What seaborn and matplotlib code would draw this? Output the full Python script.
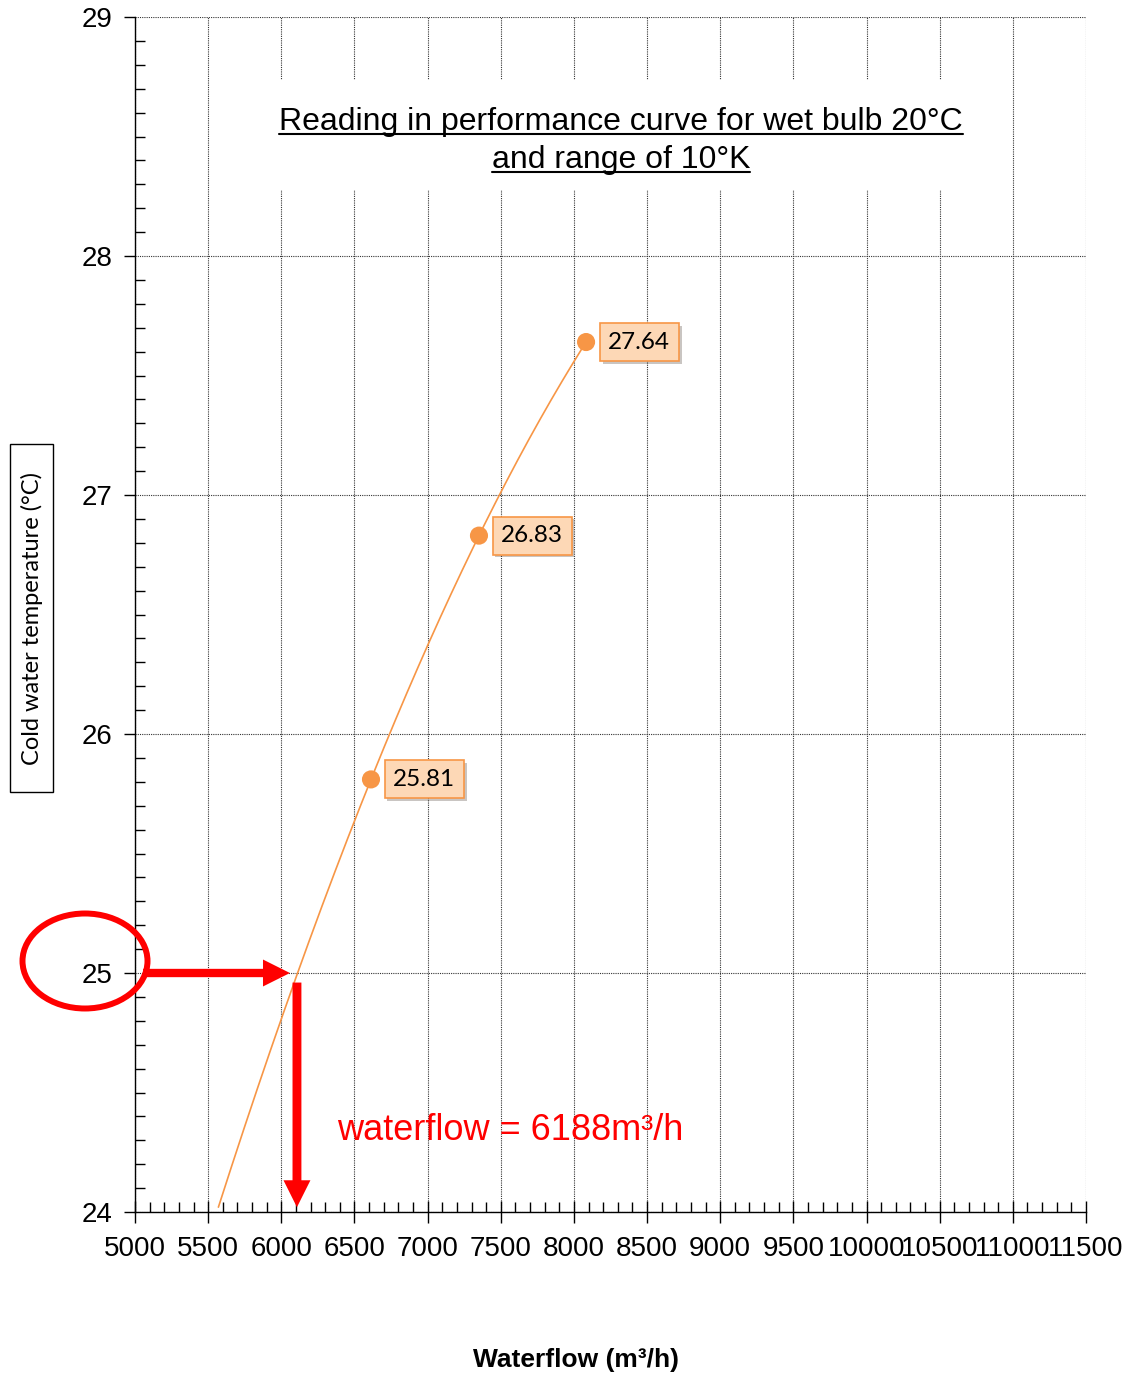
import numpy as np
import pandas as pd
import matplotlib.pyplot as plt
import seaborn as sns
from matplotlib.ticker import MultipleLocator
from matplotlib.patches import Ellipse, Rectangle
from matplotlib.lines import Line2D
import matplotlib.patheffects as pe

# data
flow = [6613, 7351, 8083]          # m3/h
cold_temp = [25.81, 26.83, 27.64]  # deg C
trend_start = 5570                 # Excel trendline backward forecast
wet_bulb_target = 25.0
answer_flow = 6188

x_ticks = list(range(5000, 11501, 500))
y_ticks = [24, 25, 26, 27, 28, 29]

ORANGE = '#F79646'

sns.set_style("white")
plt.rcParams['font.family'] = ['Liberation Sans', 'DejaVu Sans']
plt.rcParams['text.color'] = 'black'

fig = plt.figure(figsize=(11.29, 13.77), dpi=100)
W, H = 1129, 1377
ax = fig.add_axes([135 / W, 1 - 1212 / H, 951 / W, 1195 / H])

# polynomial (order 2) trendline, like the Excel one
coef = np.polyfit(flow, cold_temp, 2)
xs = np.linspace(trend_start, flow[-1], 200)
trend = pd.DataFrame({'flow': xs, 'temp': np.polyval(coef, xs)})
pts = pd.DataFrame({'flow': flow, 'temp': cold_temp})

sns.lineplot(data=trend, x='flow', y='temp', color=ORANGE, linewidth=1.2, ax=ax, zorder=3)
sns.scatterplot(data=pts, x='flow', y='temp', color=ORANGE, s=170, edgecolor='none', ax=ax, zorder=4)

for fx, ty in zip(flow, cold_temp):
    t = ax.annotate(f"{ty:.2f}", xy=(fx, ty), xytext=(16, 0), textcoords='offset points',
                    ha='left', va='center', fontsize=17.5, color='black', family=['Lato', 'DejaVu Sans'],
                    bbox=dict(boxstyle='square,pad=0.35', fc='#FDD8B6', ec=ORANGE, lw=1.2), zorder=6)
    t.get_bbox_patch().set_path_effects([pe.withSimplePatchShadow(offset=(2, -2), alpha=0.3)])

ax.set_xlim(5000, 11500)
ax.set_ylim(24, 29)
ax.set_xticks(x_ticks)
ax.set_yticks(y_ticks)
ax.xaxis.set_minor_locator(MultipleLocator(100))
ax.yaxis.set_minor_locator(MultipleLocator(0.1))
ax.tick_params(axis='y', which='major', left=True, direction='out', length=8, width=1,
               labelsize=20, pad=8, colors='black')
ax.tick_params(axis='y', which='minor', left=True, direction='in', length=7, width=1, colors='black')
ax.tick_params(axis='x', which='major', bottom=True, direction='inout', length=16, width=1,
               labelsize=20, pad=9, colors='black')
ax.tick_params(axis='x', which='minor', bottom=True, direction='in', length=7, width=1, colors='black')
ax.set_xlabel('')
ax.set_ylabel('')

ax.grid(True, which='major', color='#333333', linestyle=(0, (1, 1)), linewidth=0.8)
ax.set_axisbelow(True)
for s in ['top', 'right']:
    ax.spines[s].set_visible(False)
for s in ['left', 'bottom']:
    ax.spines[s].set_color('black')
    ax.spines[s].set_linewidth(1)

# white box behind the title
ax.add_patch(Rectangle((0.079, 0.855), 0.839, 0.092, transform=ax.transAxes,
                       fc='white', ec='none', zorder=1))
title1 = ax.text(0.511, 0.9054, 'Reading in performance curve for wet bulb 20°C',
                 transform=ax.transAxes, ha='center', va='baseline', fontsize=23, zorder=2)
title2 = ax.text(0.511, 0.8736, 'and range of 10°K',
                 transform=ax.transAxes, ha='center', va='baseline', fontsize=23, zorder=2)

# arrows and answer
ax.annotate('', xy=(6059, wet_bulb_target), xytext=(5055, wet_bulb_target),
            arrowprops=dict(arrowstyle='simple,head_length=0.97,head_width=0.97,tail_width=0.3',
                            mutation_scale=20, fc='red', ec='red', lw=0, shrinkA=0, shrinkB=0),
            annotation_clip=False, zorder=5)
ax.annotate('', xy=(6107, 24.02), xytext=(6107, 24.96),
            arrowprops=dict(arrowstyle='simple,head_length=0.97,head_width=0.97,tail_width=0.32',
                            mutation_scale=20, fc='red', ec='red', lw=0, shrinkA=0, shrinkB=0),
            annotation_clip=False, zorder=5)
ax.text(6381, 24.34, f'waterflow = {answer_flow}m³/h', color='red', fontsize=26,
        ha='left', va='center', zorder=5)

fig.patches.append(Ellipse((85 / W, 1 - 961 / H), 125 / W, 95 / H, transform=fig.transFigure,
                           fill=False, ec='red', lw=4.3, zorder=10))

# axis titles
fig.patches.append(Rectangle((10 / W, 1 - 792 / H), 43 / W, 348 / H, transform=fig.transFigure,
                             fill=False, ec='black', lw=1))
fig.text(31.5 / W, 1 - 618.5 / H, 'Cold water temperature (°C)', rotation=90,
         ha='center', va='center', fontsize=17, family=['Lato', 'DejaVu Sans'])
fig.text(576 / W, 1 - 1360 / H, 'Waterflow (m³/h)', ha='center', va='center',
         fontsize=19, fontweight='bold')

# underline the title lines
fig.canvas.draw()
r = fig.canvas.get_renderer()
for t in (title1, title2):
    bb = t.get_window_extent(renderer=r)
    base = ax.transAxes.transform(t.get_position())[1] - 4
    fig.add_artist(Line2D([bb.x0 / W, bb.x1 / W], [base / H, base / H],
                          transform=fig.transFigure, color='black', lw=1.5))

plt.savefig('out.png', dpi=100)
plt.close()
